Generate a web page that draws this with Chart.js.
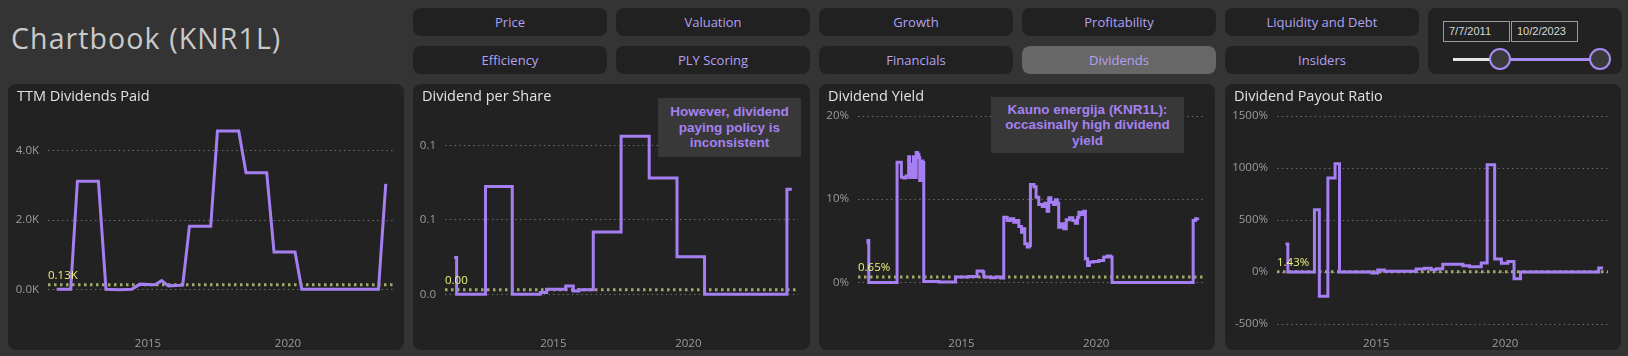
<!DOCTYPE html>
<html><head><meta charset="utf-8">
<script src="https://cdn.jsdelivr.net/npm/chart.js@4.4.0/dist/chart.umd.min.js"></script>
<style>
html,body{margin:0;padding:0;}
body{width:1628px;height:356px;background:#343434;position:relative;overflow:hidden;font-family:"Open Sans","Segoe UI",sans-serif;}
#title{position:absolute;left:11px;top:18px;font-size:28.5px;letter-spacing:1.1px;line-height:40px;color:#c9c9c9;white-space:nowrap;}
.btn{position:absolute;width:194px;height:28px;border-radius:8px;background:#212121;color:#b3a1f3;font-size:13px;line-height:28px;text-align:center;}
.btn.sel{background:#676767;}
.panel{position:absolute;top:84px;height:266px;background:#222222;border-radius:8px;}
.ptitle{position:absolute;left:9px;top:2px;font-size:14.5px;color:#e2e2e2;white-space:nowrap;}
.panel canvas{position:absolute;left:0;top:0;}
.note{position:absolute;background:#383838;color:#a581f2;font-family:"Liberation Sans",Arial,sans-serif;font-weight:bold;font-size:13.5px;line-height:15.5px;text-align:center;display:flex;align-items:center;justify-content:center;}
#slider{position:absolute;left:1428px;top:8px;width:194px;height:66px;background:#222;border-radius:8px;}
.date{position:absolute;top:13px;width:60px;height:19px;border:1.5px solid #9a9a9a;background:#222;color:#d8d8d8;font-family:"Liberation Sans",Arial,sans-serif;font-size:11px;line-height:19px;padding-left:5px;box-sizing:content-box;}
.track{position:absolute;height:3px;top:50px;}
.thumb{position:absolute;top:40px;width:18px;height:18px;border-radius:50%;background:#3a3a3a;border:2px solid #a78bf2;}
</style></head><body>
<div id="title">Chartbook (KNR1L)</div>
<div id="buttons"></div>
<div id="slider">
  <div class="date" style="left:15px">7/7/2011</div>
  <div class="date" style="left:83px">10/2/2023</div>
  <div class="track" style="left:25px;width:47px;background:#e6e6e6"></div>
  <div class="track" style="left:72px;width:100px;background:#a78bf2"></div>
  <div class="thumb" style="left:61px"></div>
  <div class="thumb" style="left:161px"></div>
</div>

<div class="panel" style="left:8px;width:396px"><canvas id="c1" width="396" height="266"></canvas><div class="ptitle">TTM Dividends Paid</div></div>
<div class="panel" style="left:413px;width:397px"><canvas id="c2" width="397" height="266"></canvas><div class="ptitle">Dividend per Share</div>
  <div class="note" style="left:245px;top:14px;width:143px;height:59px">However, dividend<br>paying policy is<br>inconsistent</div></div>
<div class="panel" style="left:819px;width:396px"><canvas id="c3" width="396" height="266"></canvas><div class="ptitle">Dividend Yield</div>
  <div class="note" style="left:172px;top:13px;width:193px;height:56px">Kauno energija (KNR1L):<br>occasinally high dividend<br>yield</div></div>
<div class="panel" style="left:1225px;width:396px"><canvas id="c4" width="396" height="266"></canvas><div class="ptitle">Dividend Payout Ratio</div></div>

<script>
// ---- navigation ----
const buttonRow1 = ["Price","Valuation","Growth","Profitability","Liquidity and Debt"];
const buttonRow2 = ["Efficiency","PLY Scoring","Financials","Dividends","Insiders"];
const selectedButton = "Dividends";

// ---- shared x axis ----
const xTickValues = [2015, 2020];
const xTickLabels = ["2015", "2020"];

// ---- TTM Dividends Paid (thousands) ----
const ttmYears = [2011.74, 2012.24, 2012.48, 2013.23, 2013.50, 2014.00, 2014.42, 2014.71, 2015.25, 2015.49, 2015.73, 2016.24, 2016.48, 2017.24, 2017.48, 2018.24, 2018.50, 2019.24, 2019.50, 2020.25, 2020.49, 2023.23, 2023.49];
const ttmValues = [0, 0, 3.12, 3.12, 0, -0.01, 0, 0.15, 0.13, 0.25, 0.10, 0.12, 1.82, 1.82, 4.57, 4.57, 3.36, 3.36, 1.08, 1.08, 0, 0, 3.04];
const ttmAverage = 0.13;
const ttmTickValues = [0, 2, 4];
const ttmTickLabels = ["0.0K", "2.0K", "4.0K"];

// ---- Dividend per Share ----
const dpsYears = [2011.33, 2011.42, 2012.49, 2013.48, 2014.52, 2014.75, 2015.46, 2015.74, 2015.95, 2016.48, 2017.51, 2018.55, 2019.58, 2020.60, 2023.65, 2023.83];
const dpsValues = [0.0248, 0, 0.0725, 0, 0.0012, 0.0034, 0.0056, 0.0022, 0.003, 0.042, 0.1063, 0.0782, 0.0252, 0, 0.0707, 0.0707];
const dpsAverage = 0.003;
const dpsTickValues = [0, 0.05, 0.1];
const dpsTickLabels = ["0.0", "0.1", "0.1"];

// ---- Dividend Yield (%) ----
const yieldYears = [2011.50, 2011.53, 2011.56, 2012.61, 2012.77, 2012.86, 2012.95, 2013.04, 2013.08, 2013.13, 2013.17, 2013.22, 2013.27, 2013.32, 2013.37, 2013.42, 2013.45, 2013.49, 2013.56, 2013.60, 2014.16, 2014.78, 2015.27, 2015.58, 2015.79, 2015.83, 2016.08, 2016.26, 2016.45, 2016.57, 2016.70, 2016.82, 2016.94, 2017.03, 2017.13, 2017.23, 2017.29, 2017.35, 2017.44, 2017.52, 2017.56, 2017.69, 2017.77, 2017.87, 2018.00, 2018.09, 2018.18, 2018.24, 2018.32, 2018.42, 2018.49, 2018.56, 2018.61, 2018.71, 2018.80, 2018.89, 2019.01, 2019.13, 2019.23, 2019.31, 2019.36, 2019.46, 2019.54, 2019.60, 2019.68, 2019.75, 2019.91, 2020.10, 2020.28, 2020.41, 2020.53, 2020.59, 2023.60, 2023.69, 2023.77];
const yieldValues = [4.64, 5.04, 0, 14.44, 12.64, 12.56, 12.8, 15.1, 12.6, 14.2, 12.6, 15.1, 12.6, 15.6, 15.4, 15.0, 12.24, 14.6, 14.4, 0.1, 0.05, 0.64, 0.72, 1.36, 1.24, 0.64, 0.56, 0.64, 0.52, 7.84, 7.44, 7.64, 7.24, 7.44, 6.72, 6.04, 6.44, 4.64, 4.24, 4.44, 11.76, 11.5, 10.24, 9.36, 9.12, 9.52, 8.56, 10.16, 9.64, 9.36, 9.92, 9.52, 6.64, 7.04, 6.44, 7.52, 7.76, 7.44, 7.12, 7.84, 8.44, 8.16, 8.56, 2.84, 2.04, 2.44, 2.52, 2.64, 3.04, 3.16, 3.04, 0, 7.44, 7.64, 7.76];
const yieldAverage = 0.65;
const yieldTickValues = [0, 10, 20];
const yieldTickLabels = ["0%", "10%", "20%"];

// ---- Dividend Payout Ratio (%) ----
const payoutYears = [2011.49, 2011.58, 2012.61, 2012.80, 2013.13, 2013.41, 2013.58, 2014.83, 2015.06, 2015.32, 2016.55, 2016.87, 2017.13, 2017.33, 2017.58, 2018.36, 2018.62, 2019.07, 2019.30, 2019.59, 2019.85, 2020.10, 2020.34, 2020.59, 2023.62, 2023.79];
const payoutValues = [269, 0, 599, -234, 903, 1041, 0, -10, 20, 8, 28, 35, 22, 32, 74, 61, 51, 86, 1031, 124, 85, 101, -65, 0, 38, 38];
const payoutAverage = 1.43;
const payoutTickValues = [-500, 0, 500, 1000, 1500];
const payoutTickLabels = ["-500%", "0%", "500%", "1000%", "1500%"];

// ---- build buttons ----
const btnBox = document.getElementById('buttons');
[buttonRow1, buttonRow2].forEach((row, r) => row.forEach((name, c) => {
  const d = document.createElement('div');
  d.className = 'btn' + (name === selectedButton ? ' sel' : '');
  d.style.left = (413 + c * 203) + 'px';
  d.style.top = (r === 0 ? 8 : 46) + 'px';
  d.textContent = name;
  btnBox.appendChild(d);
}));

// ---- charts ----
Chart.defaults.font.family = '"Open Sans","Segoe UI",sans-serif';
const PURPLE = '#a57ff2';
const OLIVE = '#a2a96a';

const refLabel = {
  id: 'refLabel',
  afterDatasetsDraw(chart, args, opts) {
    const { ctx, chartArea, scales } = chart;
    const yp = scales.y.getPixelForValue(opts.value);
    ctx.save();
    ctx.fillStyle = '#eef27a';
    ctx.font = '11.5px "Open Sans", sans-serif';
    ctx.textBaseline = 'alphabetic';
    ctx.textAlign = 'left';
    ctx.fillText(opts.text, chartArea.left, yp - 6);
    ctx.restore();
  }
};

function makeChart(id, c) {
  new Chart(document.getElementById(id), {
    type: 'line',
    data: {
      datasets: [
        { data: c.years.map((x, i) => ({ x, y: c.values[i] })), borderColor: PURPLE, borderWidth: 3,
          pointRadius: 0, stepped: c.stepped, tension: 0, order: 1, borderJoinStyle: 'miter' },
        { data: [{ x: c.xMin, y: c.avg }, { x: c.xMax, y: c.avg }], borderColor: OLIVE, borderWidth: 3,
          borderDash: [2.5, 3.5], pointRadius: 0, order: 2 }
      ]
    },
    options: {
      responsive: false, animation: false, devicePixelRatio: 1,
      layout: { padding: { top: 32, right: c.padR, left: 0, bottom: 0 } },
      plugins: { legend: { display: false }, tooltip: { enabled: false }, refLabel: { value: c.avg, text: c.avgText } },
      scales: {
        x: {
          type: 'linear', min: c.xMin, max: c.xMax,
          afterBuildTicks: s => { s.ticks = xTickValues.map(v => ({ value: v })); },
          afterFit: s => { s.height = 26; },
          ticks: { callback: (v, i) => xTickLabels[i], color: '#9c9c9c', font: { size: 11.5 }, padding: 5, maxRotation: 0, autoSkip: false },
          grid: { display: false }, border: { display: false }
        },
        y: {
          min: c.yMin, max: c.yMax,
          afterBuildTicks: s => { s.ticks = c.tickValues.map(v => ({ value: v })); },
          afterFit: s => { s.width = c.axisW; },
          ticks: { callback: (v, i) => c.tickLabels[i], color: '#9c9c9c', font: { size: 11.5 }, padding: 9, autoSkip: false },
          grid: { color: '#6a6a6a', lineWidth: 1, drawTicks: false },
          border: { display: false, dash: [1.5, 3.2] }
        }
      }
    },
    plugins: [refLabel]
  });
}

makeChart('c1', { years: ttmYears, values: ttmValues, stepped: false, avg: ttmAverage, avgText: ttmAverage.toFixed(2) + 'K',
  xMin: 2011.43, xMax: 2023.82, yMin: -1, yMax: 5, tickValues: ttmTickValues, tickLabels: ttmTickLabels, axisW: 40, padR: 9 });
makeChart('c2', { years: dpsYears, values: dpsValues, stepped: 'before', avg: dpsAverage, avgText: dpsAverage.toFixed(2),
  xMin: 2010.99, xMax: 2024.06, yMin: -0.02, yMax: 0.12, tickValues: dpsTickValues, tickLabels: dpsTickLabels, axisW: 32, padR: 12 });
makeChart('c3', { years: yieldYears, values: yieldValues, stepped: 'before', avg: yieldAverage, avgText: yieldAverage.toFixed(2) + '%',
  xMin: 2011.16, xMax: 2024.04, yMin: -5, yMax: 20, tickValues: yieldTickValues, tickLabels: yieldTickLabels, axisW: 39, padR: 10 });
makeChart('c4', { years: payoutYears, values: payoutValues, stepped: 'before', avg: payoutAverage, avgText: payoutAverage.toFixed(2) + '%',
  xMin: 2011.16, xMax: 2023.98, yMin: -500, yMax: 1500, tickValues: payoutTickValues, tickLabels: payoutTickLabels, axisW: 52, padR: 13 });
</script>
</body></html>
